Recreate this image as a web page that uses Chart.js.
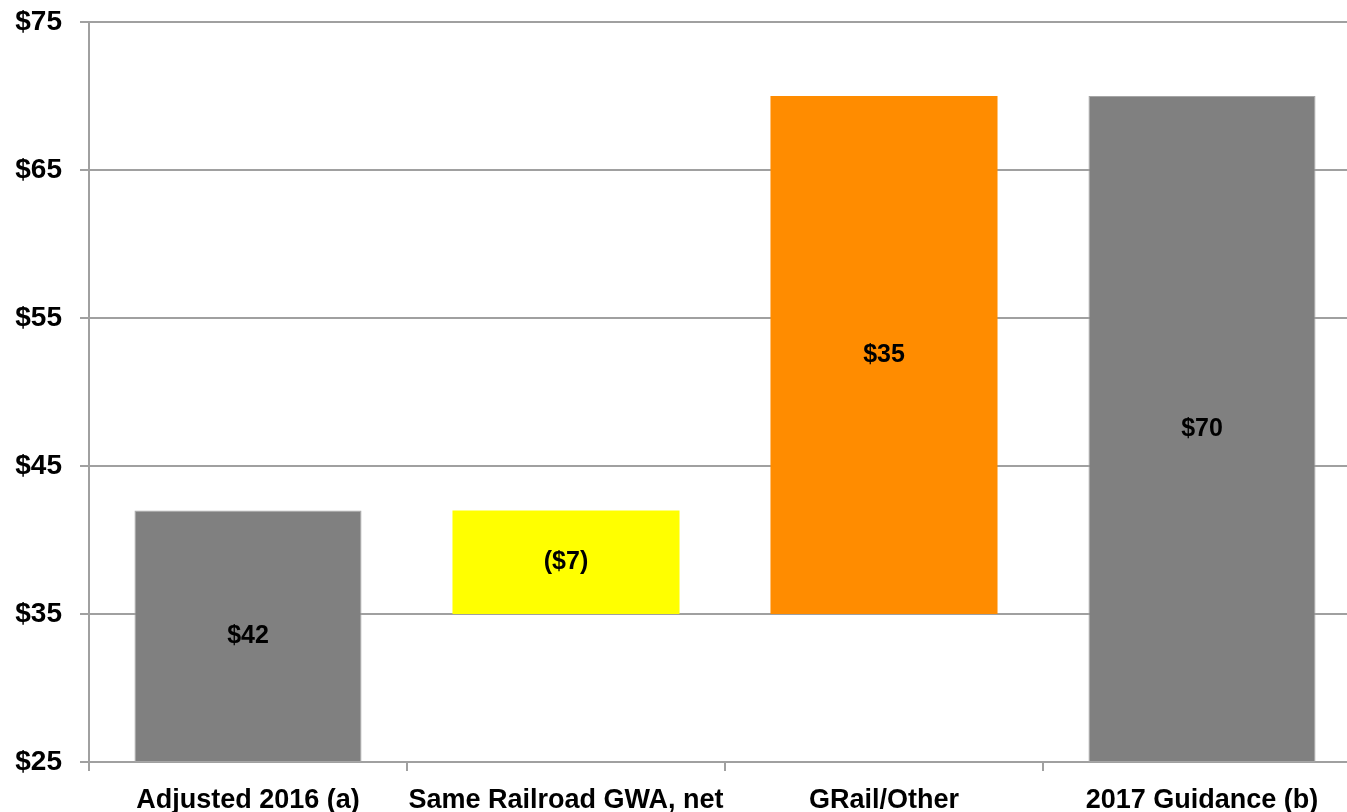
<!DOCTYPE html>
<html>
<head>
<meta charset="utf-8">
<script src="https://cdn.jsdelivr.net/npm/chart.js@4/dist/chart.umd.min.js"></script>
<style>
  html, body { margin: 0; padding: 0; background: #ffffff; overflow: hidden; }
  #wrap { width: 1347px; height: 812px; overflow: hidden; }
  canvas { display: block; }
</style>
</head>
<body>
<div id="wrap"><canvas id="chart" width="1362" height="812"></canvas></div>
<script>
// Bridge from adjusted 2016 to 2017 guidance (US$ millions)
const categories = ['Adjusted 2016 (a)', 'Same Railroad GWA, net', 'GRail/Other', '2017 Guidance (b)'];
const stepValues = [42, -7, 35, 70];
const stepKinds  = ['total', 'delta', 'delta', 'total'];
const barColors  = ['#808080', '#FFFF00', '#FF8C00', '#808080'];
const yTicks     = [25, 35, 45, 55, 65, 75];

const AXIS_MIN = yTicks[0];
const AXIS_MAX = yTicks[yTicks.length - 1];

// Turn totals and deltas into floating [start, end] bars
const floating = [];
let running = 0;
stepValues.forEach((v, i) => {
  if (stepKinds[i] === 'total') {
    floating.push([AXIS_MIN, v]);
    running = v;
  } else {
    const next = running + v;
    floating.push([Math.min(running, next), Math.max(running, next)]);
    running = next;
  }
});

function money(v) {
  return v < 0 ? '($' + Math.abs(v) + ')' : '$' + v;
}

// Value captions centred in each bar
const barCaptions = {
  id: 'barCaptions',
  afterDatasetsDraw(chart) {
    const ctx = chart.ctx;
    const meta = chart.getDatasetMeta(0);
    ctx.save();
    ctx.font = 'bold 25px "Liberation Sans", Arial, sans-serif';
    ctx.fillStyle = '#000000';
    ctx.textAlign = 'center';
    ctx.textBaseline = 'middle';
    meta.data.forEach((bar, i) => {
      const p = bar.getProps(['x', 'y', 'base'], true);
      ctx.fillText(money(stepValues[i]), p.x, (p.y + p.base) / 2);
    });
    ctx.restore();
  }
};

const gridGrey = '#a0a0a0';

new Chart(document.getElementById('chart'), {
  type: 'bar',
  data: {
    labels: categories,
    datasets: [{
      data: floating,
      backgroundColor: barColors,
      borderColor: barColors.map(c => c === '#808080' ? '#a6a6a6' : c),
      borderWidth: barColors.map(c => c === '#808080' ? 1 : 0),
      borderSkipped: false,
      barPercentage: 0.714,
      categoryPercentage: 1.0
    }]
  },
  options: {
    responsive: false,
    animation: false,
    devicePixelRatio: 1,
    layout: { padding: { top: 22, right: 1, bottom: 0, left: 0 } },
    plugins: {
      legend: { display: false },
      tooltip: { enabled: false }
    },
    scales: {
      x: {
        grid: {
          display: true,
          offset: true,
          drawOnChartArea: false,
          drawTicks: true,
          tickLength: 9,
          color: gridGrey,
          lineWidth: 2
        },
        border: { display: true, color: gridGrey, width: 2 },
        ticks: {
          color: '#000000',
          padding: 13,
          maxRotation: 0,
          autoSkip: false,
          font: { family: '"Liberation Sans", Arial, sans-serif', size: 27, weight: 'bold' }
        },
        afterFit(scale) { scale.height = 50; }
      },
      y: {
        min: AXIS_MIN,
        max: AXIS_MAX,
        afterBuildTicks(scale) {
          scale.ticks = yTicks.map(v => ({ value: v }));
        },
        grid: {
          color: gridGrey,
          lineWidth: 2,
          drawTicks: true,
          tickLength: 9
        },
        border: { display: true, color: gridGrey, width: 2 },
        ticks: {
          color: '#000000',
          padding: 18,
          callback: v => money(v),
          font: { family: '"Liberation Sans", Arial, sans-serif', size: 28, weight: 'bold' }
        },
        afterFit(scale) {
          scale.width = 89;
          scale.paddingTop = 0;
          scale.paddingBottom = 0;
        }
      }
    }
  },
  plugins: [barCaptions]
});
</script>
</body>
</html>
